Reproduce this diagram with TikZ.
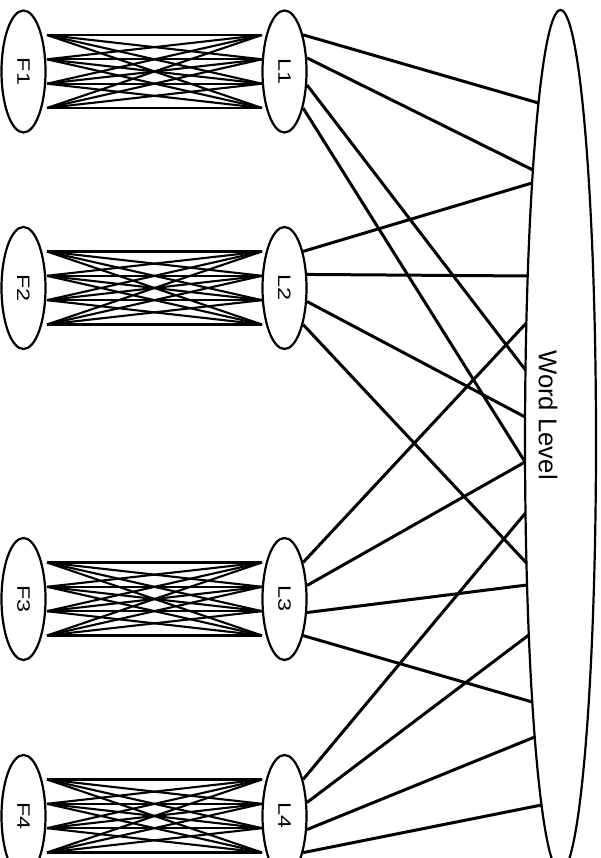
\documentclass[tikz,border=0pt]{standalone}
\usepackage{fontspec}
\setmainfont{Liberation Sans}
\usetikzlibrary{shapes.geometric,calc}

\tikzset{
  unit/.style={draw, ellipse, line width=2.2pt, minimum width=44pt, minimum height=122pt, inner sep=0pt, font=\fontsize{18}{18}\selectfont},
  wire/.style={line width=3pt},
  mesh/.style={line width=2.1pt},
}
\newcommand{\unitlabel}[1]{\rotatebox{-90}{\scalebox{1.3}[1]{#1}}}

\begin{document}
\begin{tikzpicture}[x=1pt, y=1pt, line join=round]
    \useasboundingbox (0,0) rectangle (600,858);
    \clip (0,0) rectangle (600,858);

    % feature units F and letter units L, one row per position
    \foreach \r/\y in {1/786.5, 2/570, 3/259, 4/42} {
        \node[unit] (F\r) at (23.5,\y) {\unitlabel{F\r}};
        \node[unit] (L\r) at (284.5,\y) {\unitlabel{L\r}};

        % ports of the full mesh between F and L
        \foreach \p/\d in {1/36.5, 2/12.2, 3/-12.2, 4/-36.5} {
            \coordinate (F\r-\p) at (47,\y+\d);
            \coordinate (L\r-\p) at (262,\y+\d);
        }
        \foreach \i in {1,...,4} {
            \foreach \j in {1,...,4} {
                \draw[mesh] (F\r-\i) -- (L\r-\j);
            }
        }
    }

    % word level
    \node[draw, ellipse, line width=2.2pt, minimum width=71pt, minimum height=862pt, inner sep=0pt] (WL) at (560.5,417) {};
    \node[font=\fontsize{25.7}{26}\selectfont, rotate=-90] (WLtext) at (548,443) {Word Level};

    % attach points on the word level border
    \foreach \n/\v in {1/103, 2/170, 3/183, 4/276, 5/323, 6/370, 7/417, 8/462,
                       9/513, 10/563, 11/585, 12/635, 13/702, 14/737, 15/805} {
        \pgfmathsetmacro{\wx}{560.5-35.5*sqrt(1-((441-\v)/431)^2)}
        \coordinate (W\n) at (\wx,858-\v);
    }

    % letter units to word level
    \foreach \a/\b in {L1.63/W1, L1.31/W2, L1.-31/W6, L1.-63/W8,
                       L2.63/W3, L2.31/W4, L2.-31/W7, L2.-63/W10,
                       L3.63/W5, L3.31/W8, L3.-31/W11, L3.-63/W13,
                       L4.63/W9, L4.31/W12, L4.-31/W14, L4.-63/W15} {
        \draw[wire] (\a) -- (\b);
    }
\end{tikzpicture}
\end{document}
